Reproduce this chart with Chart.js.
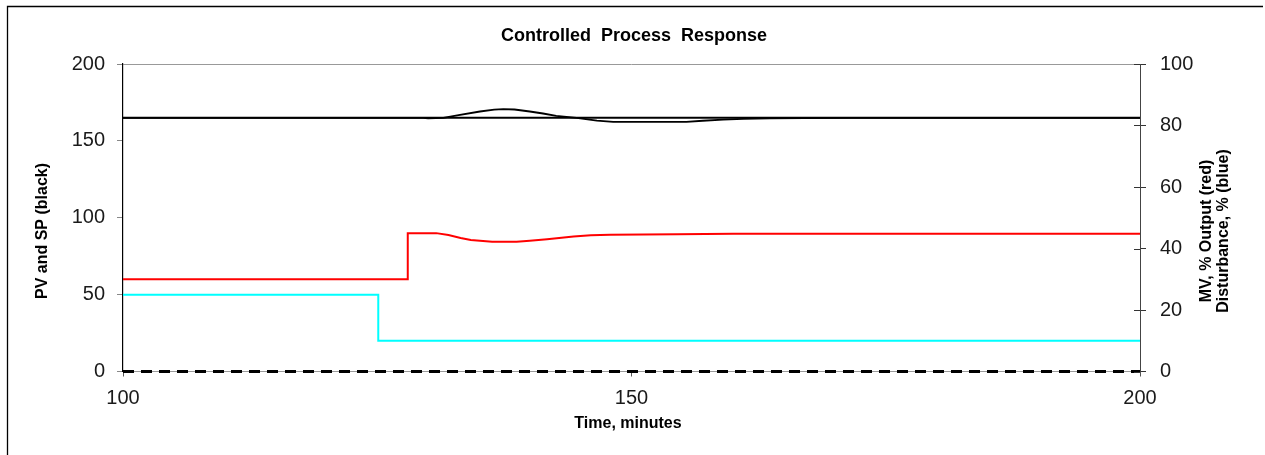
<!DOCTYPE html>
<html>
<head>
<meta charset="utf-8">
<script src="https://cdn.jsdelivr.net/npm/chart.js@4.4.1/dist/chart.umd.min.js"></script>
<style>
  html, body { margin: 0; padding: 0; background: #fff; }
  canvas { display: block; }
</style>
</head>
<body>
<canvas id="c" width="1265" height="455"></canvas>
<script>
// ---- Data ----
const xTicks = [100, 150, 200];
const leftTicks = [0, 50, 100, 150, 200];
const rightTicks = [0, 20, 40, 60, 80, 100];

const spTime = [100, 200];
const spValue = [165, 165];

const pvTime  = [100, 129.5, 130, 131.5, 133, 135.1, 136.5, 137.4, 138.5, 140, 141.3, 142.6, 144.6, 146.6, 148.2, 151, 155.4, 157, 159, 161, 163.6, 167, 171.8, 200];
const pvValue = [165, 165, 164.7, 165, 166.8, 169.1, 170.3, 170.6, 170.4, 169.1, 167.8, 166.3, 165, 163.2, 162.4, 162.3, 162.4, 163.1, 163.8, 164.3, 164.6, 164.8, 165, 165];

const mvTime  = [100, 128, 128, 130.8, 132, 133.2, 134.2, 136.3, 138.7, 140, 141.7, 144.3, 146, 147.9, 154.5, 160, 200];
const mvValue = [30, 30, 45, 45, 44.4, 43.4, 42.8, 42.2, 42.2, 42.5, 43.0, 43.9, 44.3, 44.5, 44.6, 44.8, 44.8];

const distTime  = [100, 125.1, 125.1, 200];
const distValue = [25, 25, 10, 10];

const zeroTime = [100, 200];
const zeroValue = [0, 0];

const titleText = "Controlled  Process  Response";
const xTitle = "Time, minutes";
const yLeftTitle = "PV and SP (black)";
const yRightTitle1 = "MV, % Output (red)";
const yRightTitle2 = "Disturbance, % (blue)";

function pts(t, v) { return t.map((x, i) => ({ x: x, y: v[i] })); }

const FONT = '"Liberation Sans", Arial, sans-serif';

const decorPlugin = {
  id: 'decor',
  beforeDraw(chart) {
    const ctx = chart.ctx;
    ctx.save();
    ctx.fillStyle = '#fff';
    ctx.fillRect(0, 0, chart.width, chart.height);
    ctx.strokeStyle = '#000';
    ctx.lineWidth = 1.3;
    ctx.beginPath();
    ctx.moveTo(7.5, chart.height + 2);
    ctx.lineTo(7.5, 6.5);
    ctx.lineTo(chart.width - 2, 6.5);
    ctx.stroke();
    ctx.restore();
  },
  afterDraw(chart) {
    const ctx = chart.ctx;
    const y2 = chart.scales.y2;
    const area = chart.chartArea;
    ctx.save();
    // inner half of the right-axis cross ticks
    ctx.strokeStyle = '#333';
    ctx.lineWidth = 1;
    rightTicks.forEach(v => {
      const py = Math.round(y2.getPixelForValue(v)) + 0.5;
      ctx.beginPath();
      ctx.moveTo(area.right - 6, py);
      ctx.lineTo(area.right, py);
      ctx.stroke();
    });
    ctx.fillStyle = '#000';
    ctx.textAlign = 'center';
    ctx.textBaseline = 'middle';
    ctx.font = 'bold 18px ' + FONT;
    ctx.fillText(titleText, 634, 36);
    ctx.font = 'bold 16px ' + FONT;
    ctx.fillText(xTitle, 628, 424);
    ctx.save();
    ctx.translate(43, 231);
    ctx.rotate(-Math.PI / 2);
    ctx.fillText(yLeftTitle, 0, 0);
    ctx.restore();
    ctx.save();
    ctx.translate(1207, 231);
    ctx.rotate(-Math.PI / 2);
    ctx.fillText(yRightTitle1, 0, 0);
    ctx.restore();
    ctx.save();
    ctx.translate(1224, 231);
    ctx.rotate(-Math.PI / 2);
    ctx.fillText(yRightTitle2, 0, 0);
    ctx.restore();
    ctx.restore();
  }
};

const tickFont = { family: FONT, size: 20 };

new Chart(document.getElementById('c'), {
  type: 'line',
  data: {
    datasets: [
      { label: 'Zero', data: pts(zeroTime, zeroValue), yAxisID: 'y', borderColor: '#000', borderWidth: 3, borderDash: [11, 7], clip: 6 },
      { label: 'SP', data: pts(spTime, spValue), yAxisID: 'y', borderColor: '#000', borderWidth: 2 },
      { label: 'PV', data: pts(pvTime, pvValue), yAxisID: 'y', borderColor: '#000', borderWidth: 1.8 },
      { label: 'MV', data: pts(mvTime, mvValue), yAxisID: 'y2', borderColor: '#ff0000', borderWidth: 2 },
      { label: 'Disturbance', data: pts(distTime, distValue), yAxisID: 'y2', borderColor: '#00ffff', borderWidth: 2 }
    ]
  },
  options: {
    responsive: false,
    animation: false,
    elements: { point: { radius: 0 }, line: { tension: 0 } },
    layout: { padding: { top: 64, left: 0, right: 0, bottom: 0 } },
    plugins: { legend: { display: false }, title: { display: false }, tooltip: { enabled: false } },
    scales: {
      x: {
        type: 'linear', min: 100, max: 200,
        afterBuildTicks: s => { s.ticks = xTicks.map(v => ({ value: v })); },
        afterFit: s => { s.height = 83.5; },
        ticks: { font: tickFont, color: '#1a1a1a', padding: 10, maxRotation: 0 },
        grid: { drawOnChartArea: false, drawTicks: true, tickLength: 5, color: '#555', tickColor: '#555' },
        border: { display: true, color: '#999', width: 1 }
      },
      y: {
        position: 'left', min: 0, max: 200,
        afterBuildTicks: s => { s.ticks = leftTicks.map(v => ({ value: v })); },
        afterFit: s => { s.width = 123; },
        ticks: { font: tickFont, color: '#1a1a1a', padding: 12 },
        grid: {
          drawOnChartArea: true, drawTicks: true, tickLength: 6,
          color: c => (c.tick && c.tick.value === 200) ? '#999' : 'rgba(0,0,0,0)',
          tickColor: '#888'
        },
        border: { display: true, color: '#000', width: 1.2 }
      },
      y2: {
        position: 'right', min: 0, max: 100,
        afterBuildTicks: s => { s.ticks = rightTicks.map(v => ({ value: v })); },
        afterFit: s => { s.width = 125; },
        ticks: { font: tickFont, color: '#1a1a1a', padding: 14 },
        grid: { drawOnChartArea: false, drawTicks: true, tickLength: 6, color: '#333', tickColor: '#333' },
        border: { display: true, color: '#444', width: 1 }
      }
    }
  },
  plugins: [decorPlugin]
});
</script>
</body>
</html>
